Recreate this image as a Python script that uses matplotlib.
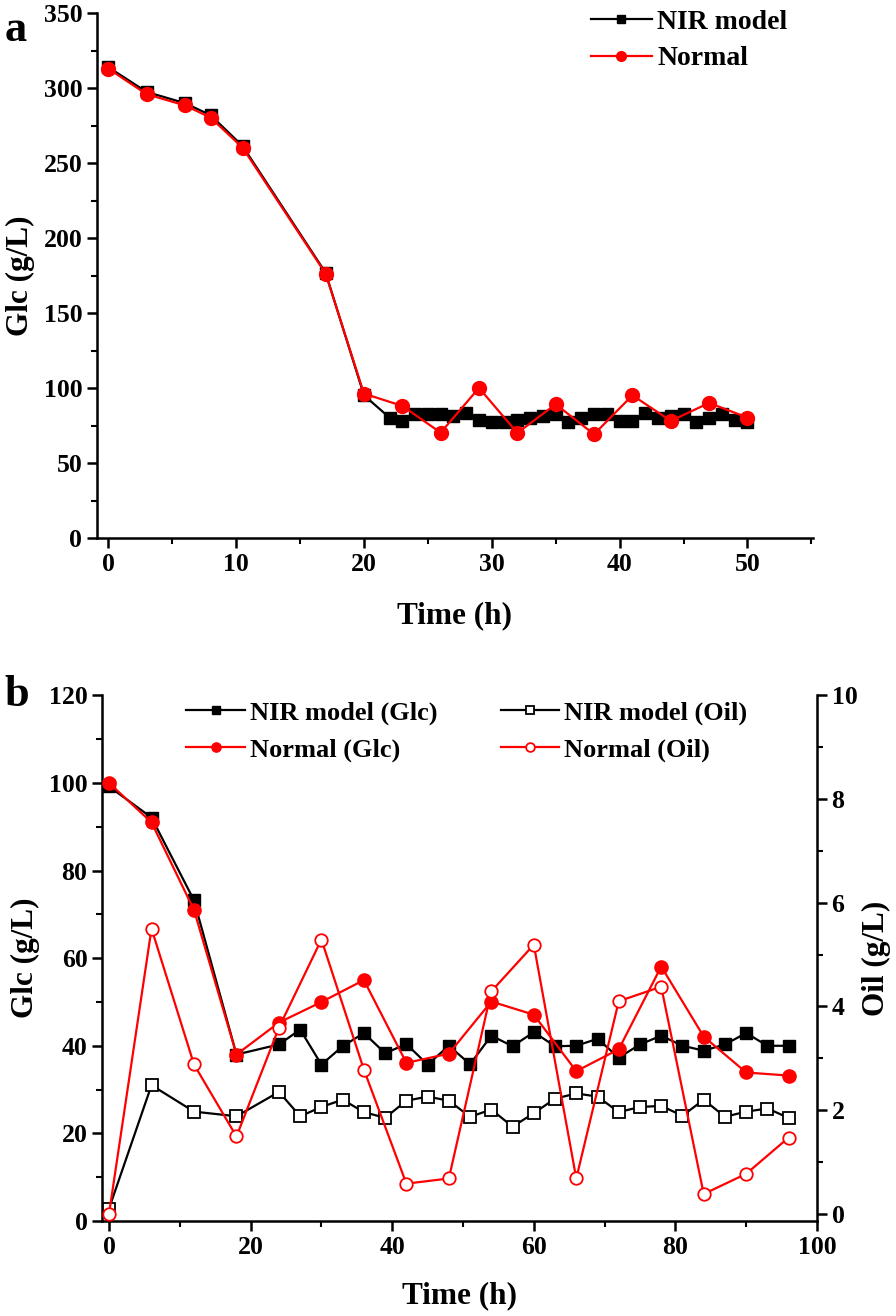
import matplotlib
matplotlib.use("Agg")
import matplotlib.pyplot as plt
from matplotlib.ticker import MultipleLocator

plt.rcParams['font.family'] = ['Liberation Serif', 'DejaVu Serif']
plt.rcParams['font.weight'] = 'bold'

# ---------------- panel a data ----------------
t_a_nir = [0, 3, 6, 8, 10.5, 17, 20, 22, 23, 24, 25, 26, 27, 28, 29, 30, 31, 32, 33, 34,
           35, 36, 37, 38, 39, 40, 41, 42, 43, 44, 45, 46, 47, 48, 49, 50]
glc_a_nir = [314, 297.5, 290, 282, 261.5, 177, 95.3, 80.4, 78.2, 82.7, 82.7, 82.7, 81.3,
             83.6, 79.1, 77.6, 77.6, 79.1, 80.4, 81.3, 83.1, 77.6, 80.4, 82.7, 82.7, 78.2,
             78.2, 83.6, 80.4, 81.3, 82.7, 77.6, 80.4, 82.7, 79.1, 77.6]
t_a_norm = [0, 3, 6, 8, 10.5, 17, 20, 23, 26, 29, 32, 35, 38, 41, 44, 47, 50]
glc_a_norm = [313, 296, 288.5, 280.4, 260.4, 176.4, 96.4, 88.2, 70.4, 100.2, 70.2, 89.3,
              69.3, 95.3, 78.2, 90.2, 80.4]

# ---------------- panel b data ----------------
t_b_nir = [0, 6, 12, 18, 24, 27, 30, 33, 36, 39, 42, 45, 48, 51, 54, 57, 60, 63, 66, 69,
           72, 75, 78, 81, 84, 87, 90, 93, 96]
glc_b_nir = [99.2, 92.1, 73.2, 38.0, 40.3, 43.7, 35.7, 39.9, 42.9, 38.3, 40.4, 35.7, 40.0,
             35.8, 42.3, 39.9, 43.1, 39.9, 40.0, 41.6, 37.3, 40.3, 42.3, 40.0, 38.9, 40.3,
             42.9, 40.0, 40.0]
oil_b_nir = [0.1, 2.48, 1.97, 1.88, 2.35, 1.88, 2.06, 2.20, 1.96, 1.85, 2.18, 2.26, 2.18,
             1.87, 2.01, 1.68, 1.94, 2.22, 2.32, 2.26, 1.96, 2.06, 2.08, 1.89, 2.20, 1.87,
             1.97, 2.03, 1.85]
t_b_norm = [0, 6, 12, 18, 24, 30, 36, 42, 48, 54, 60, 66, 72, 78, 84, 90, 96]
glc_b_norm = [100, 91, 71, 38, 45.3, 50, 55, 36.1, 38.2, 50.1, 47.1, 34.2, 39.2, 58.1,
              42.1, 33.9, 33.2]
oil_b_norm = [0.0, 5.5, 2.88, 1.49, 3.59, 5.29, 2.78, 0.58, 0.68, 4.29, 5.19, 0.68, 4.1,
              4.38, 0.38, 0.77, 1.47]

RED = '#ff0000'
FS_TICK = 18.5
FS_LAB = 22.5

fig = plt.figure(figsize=(8.96, 13.16), dpi=100)


def style_axis(ax, right=False):
    ax.spines['top'].set_visible(False)
    if not right:
        ax.spines['right'].set_visible(False)
    for s in ax.spines.values():
        s.set_linewidth(1.8)
    ax.tick_params(which='major', direction='out', length=7, width=1.8, labelsize=FS_TICK)
    ax.tick_params(which='minor', direction='out', length=4, width=1.5)
    for lab in ax.get_xticklabels() + ax.get_yticklabels():
        lab.set_fontweight('bold')


# ================= panel a =================
axa = fig.add_axes([0.108, 0.591, 0.799, 0.399])
axa.plot(t_a_nir, glc_a_nir, color='black', lw=1.6, marker='s', ms=9,
         mfc='black', mec='black', label='NIR model', zorder=2)
axa.plot(t_a_norm, glc_a_norm, color=RED, lw=1.6, marker='o', ms=10,
         mfc=RED, mec=RED, label='Normal', zorder=3)
axa.set_xlim(-0.9, 55.1)
axa.set_ylim(0, 350)
axa.xaxis.set_major_locator(MultipleLocator(10))
axa.xaxis.set_minor_locator(MultipleLocator(5))
axa.yaxis.set_major_locator(MultipleLocator(50))
axa.yaxis.set_minor_locator(MultipleLocator(25))
style_axis(axa)
axa.set_xlabel('Time (h)', fontsize=FS_LAB, fontweight='bold', labelpad=18)
axa.set_ylabel('Glc (g/L)', fontsize=FS_LAB, fontweight='bold', labelpad=6)
axa.legend(loc='upper left', bbox_to_anchor=(0.655, 1.055), frameon=False,
           prop={'size': 20, 'weight': 'bold'}, handlelength=2.2, handletextpad=0.2,
           markerscale=0.7, labelspacing=0.4)

# ================= panel b =================
axb = fig.add_axes([0.1138, 0.0722, 0.798, 0.3994])
axo = axb.twinx()
h1, = axb.plot(t_b_nir, glc_b_nir, color='black', lw=1.6, marker='s', ms=9,
               mfc='black', mec='black', label='NIR model (Glc)', zorder=2)
h2, = axb.plot(t_b_norm, glc_b_norm, color=RED, lw=1.6, marker='o', ms=9.5,
               mfc=RED, mec=RED, label='Normal (Glc)', zorder=3)
h3, = axo.plot(t_b_nir, oil_b_nir, color='black', lw=1.6, marker='s', ms=8,
               mfc='white', mec='black', mew=1.3, label='NIR model (Oil)', zorder=2)
h4, = axo.plot(t_b_norm, oil_b_norm, color=RED, lw=1.6, marker='o', ms=9,
               mfc='white', mec=RED, mew=1.3, label='Normal (Oil)', zorder=3)
axb.set_xlim(-1, 100)
axb.set_ylim(0, 120)
axo.set_ylim(-0.14, 10)
axb.xaxis.set_major_locator(MultipleLocator(20))
axb.xaxis.set_minor_locator(MultipleLocator(10))
axb.yaxis.set_major_locator(MultipleLocator(20))
axb.yaxis.set_minor_locator(MultipleLocator(10))
axo.yaxis.set_major_locator(MultipleLocator(2))
axo.yaxis.set_minor_locator(MultipleLocator(1))
style_axis(axb)
style_axis(axo, right=True)
axo.spines['left'].set_visible(False)
axo.spines['bottom'].set_visible(False)
axb.set_xlabel('Time (h)', fontsize=FS_LAB, fontweight='bold', labelpad=16)
axb.set_ylabel('Glc (g/L)', fontsize=FS_LAB, fontweight='bold', labelpad=6)
axo.set_ylabel('Oil (g/L)', fontsize=FS_LAB, fontweight='bold', labelpad=3)
axo.legend(handles=[h1, h2, h3, h4], loc='upper left', bbox_to_anchor=(0.085, 1.035),
           ncol=2, frameon=False, prop={'size': 19, 'weight': 'bold'},
           handlelength=2.2, handletextpad=0.2, markerscale=0.7, columnspacing=2.4,
           labelspacing=0.5)

fig.text(0.005, 0.977, 'a', fontsize=32, fontweight='bold', va='center')
fig.text(0.005, 0.472, 'b', fontsize=32, fontweight='bold', va='center')

fig.savefig('out.png', dpi=100)
